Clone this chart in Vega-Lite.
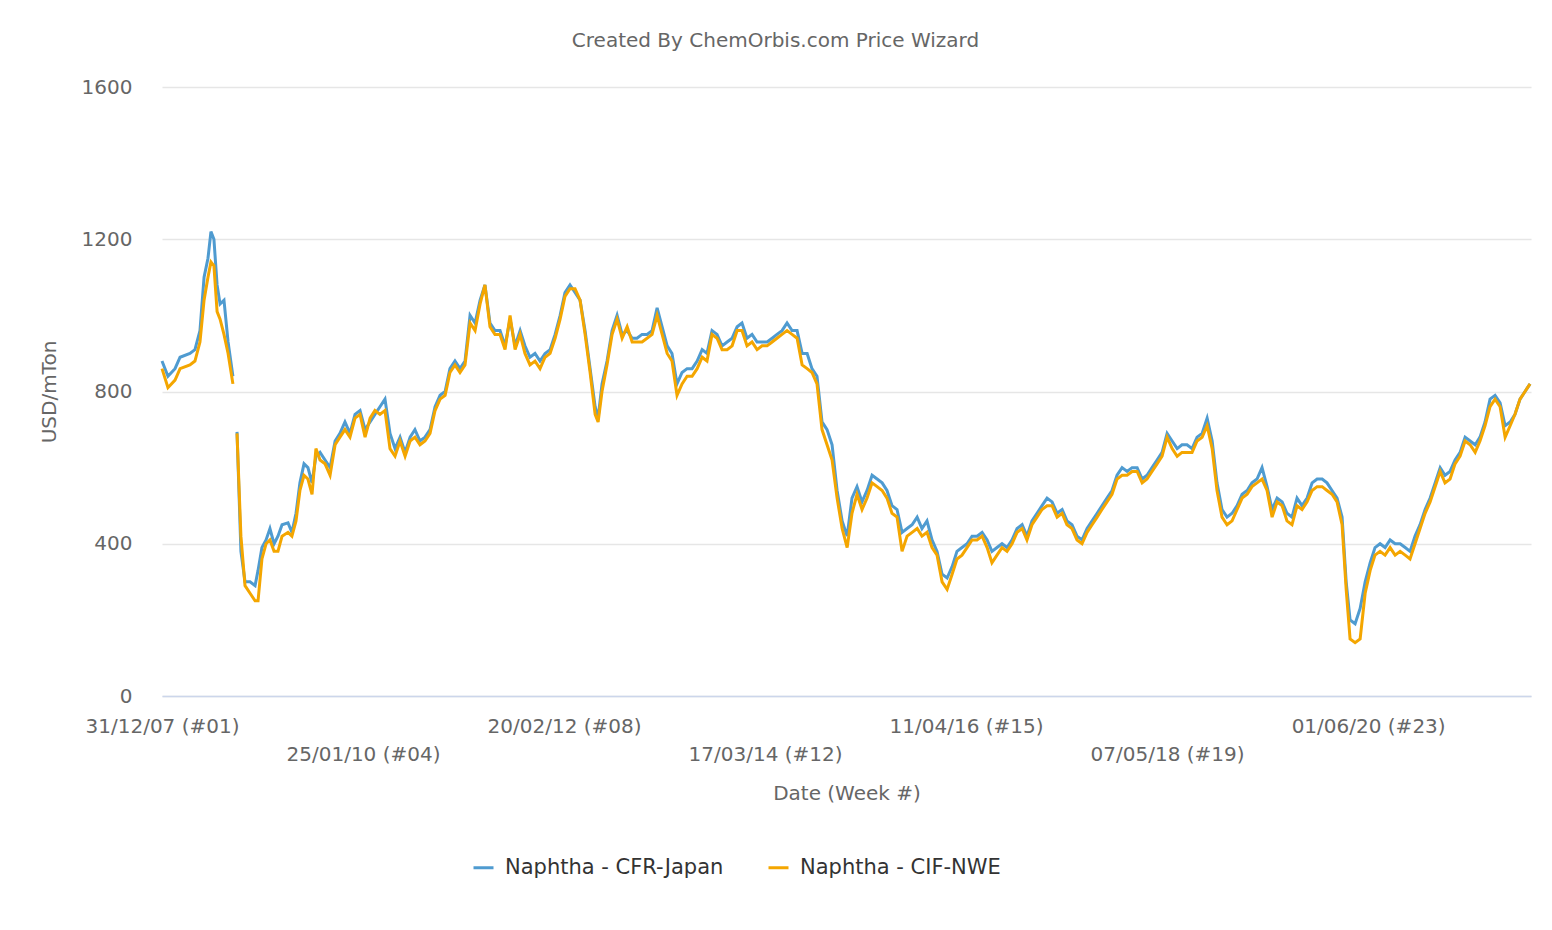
{
"$schema":"https://vega.github.io/schema/vega-lite/v6.json",
"width":1369,"height":609,
"autosize":{"type":"none"},
"padding":{"left":162,"top":87,"right":21,"bottom":234},
"background":"white",
"config":{"font":"DejaVu Sans","view":{"stroke":null}},
"title":{"text":"Created By ChemOrbis.com Price Wizard","fontSize":20,"fontWeight":"normal","color":"#666666","offset":26,"dx":-71,"anchor":"middle"},
"data":{"values":[
[0,880,860],[3.2,840,810],[7.0,860,830],[9.7,890,860],[15.0,900,870],[17.7,910,880],[20.4,960,930],[22.6,1100,1040],[24.7,1150,1100],[26.3,1220,1140],[27.9,1200,1130],[29.6,1080,1010],[31.2,1030,990],[33.3,1040,950],[35.5,930,900],[38.1,840,820],[39.2,null,null],[40.3,694,690],[42.4,380,420],[44.6,300,290],[47.3,300,270],[50.0,290,250],[51.6,330,250],[53.7,390,360],[55.9,410,400],[58.0,440,410],[60.2,400,380],[62.3,420,380],[64.5,450,420],[67.7,455,430],[69.8,430,420],[72.0,480,460],[74.1,560,540],[76.3,610,580],[78.4,600,570],[80.6,560,530],[82.7,630,650],[84.9,640,620],[87.6,620,610],[90.3,600,580],[93.0,670,660],[95.6,690,680],[98.3,720,700],[101.0,690,680],[103.7,740,730],[106.4,750,740],[109.1,700,680],[111.8,720,730],[114.4,740,750],[117.1,760,740],[119.8,780,750],[122.5,690,650],[125.2,650,630],[127.9,680,670],[130.6,640,630],[133.3,680,670],[135.9,700,680],[138.6,670,660],[141.3,680,670],[144.0,700,690],[146.7,760,750],[149.4,790,780],[152.1,800,790],[154.7,860,850],[157.4,880,870],[160.1,860,850],[162.8,880,870],[165.5,1000,980],[168.2,980,960],[170.9,1040,1030],[173.5,1080,1080],[176.2,980,970],[178.9,960,950],[181.6,960,950],[184.3,920,910],[187.0,990,1000],[189.7,920,910],[192.4,960,950],[195.0,920,900],[197.7,890,870],[200.4,900,880],[203.1,880,860],[205.8,900,890],[208.5,910,900],[211.2,950,940],[213.9,1000,990],[216.5,1060,1050],[219.2,1080,1070],[221.9,1060,1070],[224.6,1040,1040],[227.3,960,950],[230.0,860,850],[232.7,760,740],[234.3,730,720],[236.4,820,800],[239.1,880,870],[241.8,960,950],[244.5,1000,990],[247.2,950,940],[249.9,960,970],[252.6,940,930],[255.2,940,930],[257.9,950,930],[260.6,950,940],[263.3,960,950],[266.0,1020,1000],[268.7,970,950],[271.4,920,900],[274.0,900,880],[276.7,820,790],[279.4,850,820],[282.1,860,840],[284.8,860,840],[287.5,880,860],[290.2,910,890],[292.8,900,880],[295.5,960,950],[298.2,950,940],[300.9,920,910],[303.6,930,910],[306.3,940,920],[309.0,970,960],[311.6,980,960],[314.3,940,920],[317.0,950,930],[319.7,930,910],[322.4,930,920],[325.1,930,920],[327.8,940,930],[330.4,950,940],[333.1,960,950],[335.8,980,960],[338.5,960,950],[341.2,960,940],[343.9,900,870],[346.6,900,860],[349.2,860,850],[351.9,840,820],[354.6,720,700],[357.3,700,660],[360.0,660,620],[362.7,540,520],[365.4,460,440],[368.1,420,390],[370.7,520,480],[373.4,550,530],[376.1,510,490],[378.8,540,520],[381.5,580,560],[384.2,570,550],[386.9,560,540],[389.5,540,520],[392.2,500,480],[394.9,490,470],[397.6,430,380],[400.3,440,420],[403.0,450,430],[405.7,470,440],[408.3,440,420],[411.0,460,430],[413.7,410,390],[416.4,380,370],[419.1,320,300],[421.8,310,280],[424.5,340,320],[427.1,380,360],[429.8,390,370],[432.5,400,390],[435.2,420,410],[437.9,420,410],[440.6,430,420],[443.3,410,390],[445.9,380,350],[448.6,390,370],[451.3,400,390],[454.0,390,380],[456.7,410,400],[459.4,440,430],[462.1,450,440],[464.7,420,410],[467.4,460,450],[470.1,480,470],[472.8,500,490],[475.5,520,500],[478.2,510,500],[480.9,480,470],[483.6,490,480],[486.2,460,450],[488.9,450,440],[491.6,420,410],[494.3,410,400],[497.0,440,430],[499.7,460,450],[502.4,480,470],[505.0,500,490],[507.7,520,510],[510.4,540,530],[513.1,580,570],[515.8,600,580],[518.5,590,580],[521.2,600,590],[523.9,600,590],[526.6,570,560],[529.2,580,570],[531.9,600,590],[534.6,620,610],[537.3,640,630],[540.0,690,680],[542.7,670,650],[545.4,650,630],[548.0,660,640],[550.7,660,640],[553.4,650,640],[556.1,680,670],[558.8,690,680],[561.5,730,710],[564.2,670,650],[566.8,560,540],[569.5,490,470],[572.2,470,450],[574.9,480,460],[577.6,500,490],[580.3,530,520],[583.0,540,530],[585.6,560,550],[588.3,570,560],[591.0,600,570],[593.7,550,540],[596.4,490,470],[599.1,520,510],[601.8,510,500],[604.4,480,460],[607.1,470,450],[609.8,520,500],[612.5,500,490],[615.2,520,510],[617.9,560,540],[620.6,570,550],[623.3,570,550],[625.9,560,540],[628.6,540,530],[631.3,520,510],[634.0,470,450],[636.2,300,280],[638.3,200,150],[641.0,190,140],[643.7,230,150],[646.4,300,270],[649.1,350,330],[651.7,390,370],[654.4,400,380],[657.1,390,370],[659.8,410,390],[662.5,400,370],[665.2,400,380],[667.9,390,370],[670.5,380,360],[673.2,420,400],[675.9,450,440],[678.6,490,480],[681.3,520,510],[684.0,560,550],[686.7,600,590],[689.3,580,560],[692.0,590,570],[694.7,620,610],[697.4,640,630],[700.1,680,670],[702.8,670,660],[705.5,660,640],[708.1,680,670],[710.8,720,710],[713.5,780,760],[716.2,790,780],[718.9,770,760],[721.6,710,680],[724.3,720,710],[726.9,740,740],[729.6,780,780],[732.3,800,800],[735.0,820,820]
]},
"transform":[
{"fold":["1","2"],"as":["k","price"]},
{"filter":"true"}
],
"mark":{"type":"line","strokeWidth":3,"invalid":"break-paths-show-domains"},
"encoding":{
"x":{"field":"0","type":"quantitative","scale":{"domain":[0,735.5],"nice":false,"zero":false},
"axis":{"title":"Date (Week #)","titleFontSize":20,"titleFontWeight":"normal","titleColor":"#666666","titlePadding":19,
"values":[0,108,216,324,432,540,648],
"labelExpr":"datum.value==0?'31/12/07 (#01)':datum.value==108?['','25/01/10 (#04)']:datum.value==216?'20/02/12 (#08)':datum.value==324?['','17/03/14 (#12)']:datum.value==432?'11/04/16 (#15)':datum.value==540?['','07/05/18 (#19)']:'01/06/20 (#23)'",
"labelFontSize":20,"labelColor":"#666666","labelLineHeight":28,"labelPadding":30,"labelBaseline":"middle","labelFlush":false,"labelOverlap":false,
"grid":false,"ticks":false,"domainColor":"#ccd6eb","domainWidth":1.5}},
"y":{"field":"price","type":"quantitative","scale":{"domain":[0,1600],"nice":false},
"axis":{"title":"USD/mTon","titleFontSize":20,"titleFontWeight":"normal","titleColor":"#666666","titlePadding":22,"format":"d",
"values":[0,400,800,1200,1600],"labelFontSize":20,"labelColor":"#666666","labelPadding":30,
"domain":false,"ticks":false,"gridColor":"#e6e6e6","gridWidth":1.5}},
"color":{"field":"k","type":"nominal","scale":{"domain":["1","2"],"range":["#4f9bd0","#f4a600"]},
"legend":{"title":null,"orient":"none","legendX":310,"legendY":769,"direction":"horizontal","labelLimit":400,
"labelExpr":"datum.value=='1'?'Naphtha - CFR-Japan':'Naphtha - CIF-NWE'",
"labelFontSize":21,"labelColor":"#333333","symbolType":"stroke","symbolStrokeWidth":3,"symbolSize":400,"columnPadding":38,"labelOffset":10}}
}
}
